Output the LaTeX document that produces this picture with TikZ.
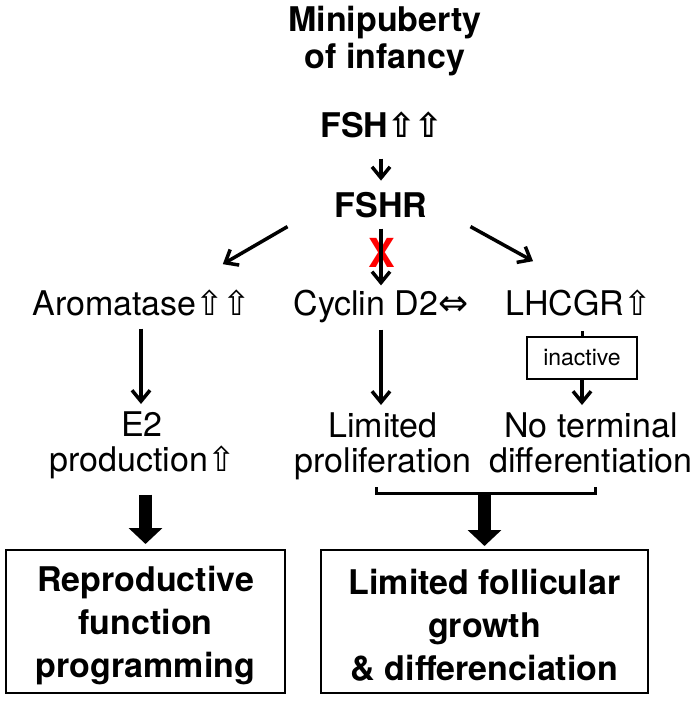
\documentclass[tikz,border=0pt]{standalone}
\usepackage{fontspec}
\setmainfont{TeX Gyre Heros}
\newfontfamily\symf{DejaVu Sans}
\usetikzlibrary{arrows.meta,calc}
\newcommand{\wup}{{\symf\fontsize{34}{34}\selectfont\kern-1pt ⇧\kern-1pt}}
\newcommand{\wlr}{{\symf\fontsize{36}{36}\selectfont ⇔}}
\begin{document}
\begin{tikzpicture}[x=1pt,y=-1pt,
  txt/.style={inner sep=0pt, font=\fontsize{34}{35}\selectfont, align=center},
  btxt/.style={inner sep=0pt, font=\fontsize{34}{36}\selectfont\bfseries, align=center},
  boxtxt/.style={draw, line width=2pt, inner sep=0pt, font=\fontsize{34}{43}\selectfont\bfseries, align=center, minimum height=143pt},
  arr/.style={line width=3.5pt, -{Straight Barb[length=11pt,width=18pt,line width=3.5pt]}},
  plain/.style={line width=3pt},
  fat/.style={line width=13pt, -{Triangle[width=33pt,length=16pt]}}
]
\useasboundingbox (0,0) rectangle (700,701);

\node[btxt, anchor=base] (title) at (385,68) {Minipuberty\\of infancy};
\node[btxt, anchor=base] (fsh) at (381,137) {FSH\wup\wup};
\node[btxt, anchor=base] (fshr) at (381,217) {FSHR};

\node[txt, anchor=base] (arom) at (141,315) {Aromatase\wup\wup};
\node[txt, anchor=base] (cyc) at (381,315) {Cyclin D2\wlr};
\node[txt, anchor=base] (lh) at (578,315) {LHCGR\wup};

\node[draw, line width=1.5pt, inner sep=0pt, minimum width=110pt, minimum height=42pt,
      font=\fontsize{23}{23}\selectfont] (inact) at (582,358) {inactive};

\node[txt, anchor=base] (e2) at (142,471) {E2\\production\wup};
\node[txt, anchor=base] (lim) at (383,472) {Limited\\proliferation};
\node[txt, anchor=base] (noterm) at (591,472) {No terminal\\differentiation};

\node[boxtxt, minimum width=279pt] (rep) at (145.5,621.5) {\rule{0pt}{33pt}Reproductive\\function\\programming};
\node[boxtxt, minimum width=327pt] (fol) at (484.5,621.5) {\rule{0pt}{33pt}Limited follicular\\growth\\\& differenciation};

\node[inner sep=0pt, text=red, font=\fontsize{40}{40}\selectfont\bfseries] (xmark) at (382,253) {X};

% connectors
\draw[arr, shorten <=21pt, shorten >=11pt] (fsh.south -| fshr.north) -- (fshr.north);
\draw[arr] ($(fshr.south west)+(-47,9)$) -- ($(arom.north east)+(-27,-25)$);
\draw[arr] ($(fshr.south east)+(43,9)$) -- ($(lh.north west)+(28,-28)$);
\draw[arr, shorten <=11pt, shorten >=4pt] (fshr.south) -- (cyc.north);
\draw[arr, shorten <=13pt, shorten >=7pt] (arom.south) -- (arom.south |- e2.north);
\draw[arr, shorten <=7pt, shorten >=7pt] (cyc.south) -- (cyc.south |- lim.north);
\draw[plain, shorten <=15pt] (inact.north |- lh.south) -- (inact.north);
\draw[arr, shorten >=7pt] (inact.south) -- (inact.south |- noterm.north);

\coordinate (bl) at (376,487);
\coordinate (br) at (595,487);
\coordinate (bm) at (484.5,493);
\draw[plain] (bl) -- ++(0,6) -| (br);
\draw[fat, shorten >=3pt] (bm) -- (fol.north);
\draw[fat, shorten <=16pt, shorten >=5pt] (e2.south -| rep.north) -- (rep.north);
\end{tikzpicture}
\end{document}
